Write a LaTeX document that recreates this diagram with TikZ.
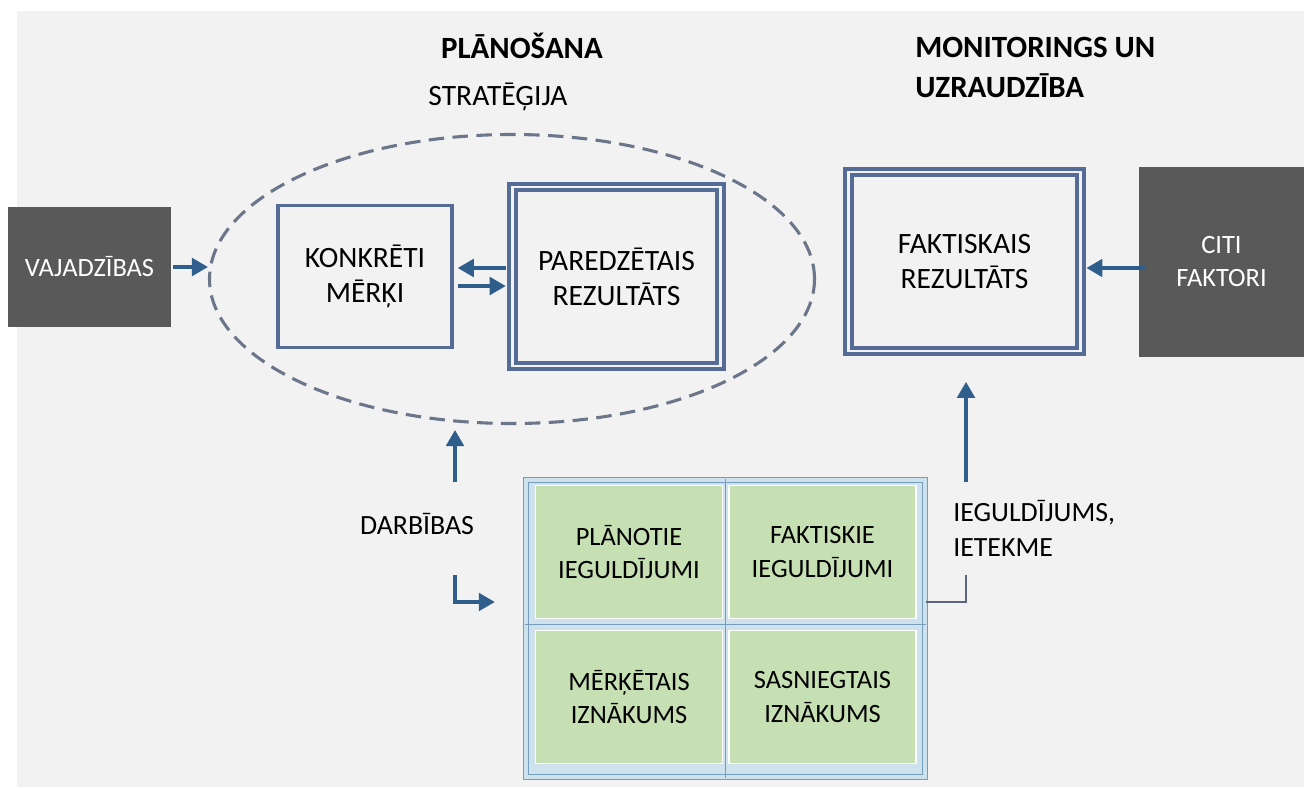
\documentclass[tikz,border=0pt]{standalone}
\usepackage{fontspec}
\setmainfont{Carlito}
\usetikzlibrary{shapes.geometric, arrows.meta}
\usetikzlibrary{calc}
\definecolor{bgcol}{RGB}{242,242,242}
\definecolor{darkbox}{RGB}{89,89,89}
\definecolor{framecol}{RGB}{84,108,150}
\definecolor{arrowcol}{RGB}{47,93,140}
\definecolor{dashcol}{RGB}{108,118,138}
\definecolor{cellgreen}{RGB}{198,224,180}
\definecolor{gridfill}{RGB}{206,226,238}
\definecolor{gridedge}{RGB}{118,158,188}
\definecolor{linkcol}{RGB}{92,102,132}
\tikzstyle{dark} = [rectangle, minimum width=4.075cm, minimum height=3cm, text centered, align=center, fill=darkbox, text=white, font=\fontsize{18.8}{24}\selectfont]
\tikzstyle{single} = [rectangle, minimum width=4.35cm, minimum height=3.55cm, text centered, align=center, draw=framecol, line width=2.5pt, fill=bgcol, font=\fontsize{21}{25}\selectfont]
\tikzstyle{result} = [rectangle, minimum height=4.48cm, text centered, align=center, draw=framecol, line width=2.8pt, double=bgcol, double distance=1.6pt, fill=bgcol, font=\fontsize{21}{25}\selectfont]
\tikzstyle{strategy} = [ellipse, minimum width=15.125cm, minimum height=7.225cm, inner sep=0pt, draw=dashcol, line width=2.2pt, dash pattern=on 11pt off 6pt]
\tikzstyle{gridframe} = [rectangle, minimum width=9.98cm, minimum height=7.43cm, draw=gridedge, line width=0.8pt, double=gridfill, double distance=2.5pt, fill=gridfill]
\tikzstyle{cell} = [rectangle, minimum width=4.675cm, minimum height=3.325cm, text centered, align=center, fill=cellgreen, draw=white, line width=1pt, font=\fontsize{18.8}{24}\selectfont]
\tikzstyle{plaintext} = [inner sep=0pt, align=center, font=\fontsize{19.8}{25}\selectfont]
\tikzstyle{heading} = [inner sep=0pt, align=left, font=\fontsize{22}{28.5}\selectfont\bfseries]
\tikzstyle{arrow} = [line width=2.4pt, draw=arrowcol, -{Triangle[length=0.4cm, width=0.44cm]}]
\tikzstyle{link} = [line width=1.5pt, draw=linkcol]
\tikzstyle{divider} = [line width=0.9pt, draw=gridedge]

\begin{document}
\begin{tikzpicture}[node distance=2cm]
	\useasboundingbox (0,0) rectangle (32.6,-19.675);
	\fill[bgcol] (0.425,-0.275) rectangle (32.6,-19.675);

	\node(vaj)[dark] at (2.2375,-6.675) {VAJADZĪBAS};
	\node(konk)[single, right of=vaj, xshift=4.8875cm, yshift=-0.2375cm]{KONKRĒTI\\MĒRĶI};
	\node(ell)[strategy, right of=konk, xshift=1.675cm, yshift=-0.0625cm]{};
	\node(pared)[result, right of=konk, xshift=4.2875cm, minimum width=5.2cm]{PAREDZĒTAIS\\REZULTĀTS};
	\node(fakt)[result, right of=pared, xshift=6.7cm, yshift=0.375cm, minimum width=5.8cm]{FAKTISKAIS\\REZULTĀTS};
	\node(citi)[dark, right of=fakt, xshift=4.425cm, minimum width=4.125cm, minimum height=4.75cm]{CITI\\FAKTORI};

	\node(strat)[plaintext, font=\fontsize{21}{25}\selectfont, above of=ell, xshift=-0.35cm, yshift=2.55cm]{STRATĒĢIJA};
	\node(plan)[heading, above of=strat, xshift=0.6cm, yshift=-0.725cm]{PLĀNOŠANA};
	\node(monit)[heading, above of=fakt, anchor=west, xshift=-1.2375cm, yshift=2.8625cm]{MONITORINGS UN\\UZRAUDZĪBA};

	% green table
	\node(grid)[gridframe, below of=pared, xshift=2.725cm, yshift=-6.8cm]{};
	\node(pl)[cell, above of=grid, xshift=-2.4125cm, yshift=-0.0875cm]{PLĀNOTIE\\IEGULDĪJUMI};
	\node(fk)[cell, right of=pl, xshift=2.8375cm]{FAKTISKIE\\IEGULDĪJUMI};
	\node(mr)[cell, below of=pl, yshift=-1.625cm]{MĒRĶĒTAIS\\IZNĀKUMS};
	\node(sa)[cell, right of=mr, xshift=2.8375cm]{SASNIEGTAIS\\IZNĀKUMS};
	\coordinate (mid) at ($(pl.south)!0.5!(mr.north)$);
	\draw [divider] (grid.north) -- (grid.south);
	\draw [divider] (grid.west |- mid) -- (grid.east |- mid);

	\node(darb)[plaintext, below of=ell, xshift=-2.375cm, yshift=-4.125cm]{DARBĪBAS};
	\node(ieg)[plaintext, right of=grid, anchor=west, align=left, xshift=3.6875cm, yshift=2.5125cm]{IEGULDĪJUMS,\\IETEKME};

	\coordinate (darbup) at (11.375,-12.05);
	\coordinate (darbdn) at (11.375,-14.375);
	\coordinate (iegdn) at (24.15,-14.375);
	\coordinate (iegup) at (24.15,-12.05);

	\draw [arrow, shorten <=0.05cm] (vaj.east) -- (vaj.east -| ell.west);
	\draw [arrow, shorten <=0.12cm, shorten >=0.1cm] ([yshift=0.2125cm]pared.west) -- ([yshift=0.2125cm]konk.east);
	\draw [arrow, shorten <=0.1cm, shorten >=0.12cm] ([yshift=-0.2375cm]konk.east) -- ([yshift=-0.2375cm]pared.west);
	\draw [arrow, shorten <=-0.175cm, shorten >=0.1cm] ([yshift=-0.1625cm]citi.west) -- ([yshift=-0.1625cm]fakt.east);
	\draw [arrow, shorten >=0.125cm] (darbup) -- (darbup |- ell.south);
	\draw [arrow, shorten >=1.0cm] (darbdn) |- ([yshift=-1.25cm]pl.west);
	\draw [link] ([yshift=0.6625cm]grid.east) -| (iegdn);
	\draw [arrow, shorten >=0.72cm] (iegup) -- (iegup |- fakt.south);
\end{tikzpicture}
\end{document}
